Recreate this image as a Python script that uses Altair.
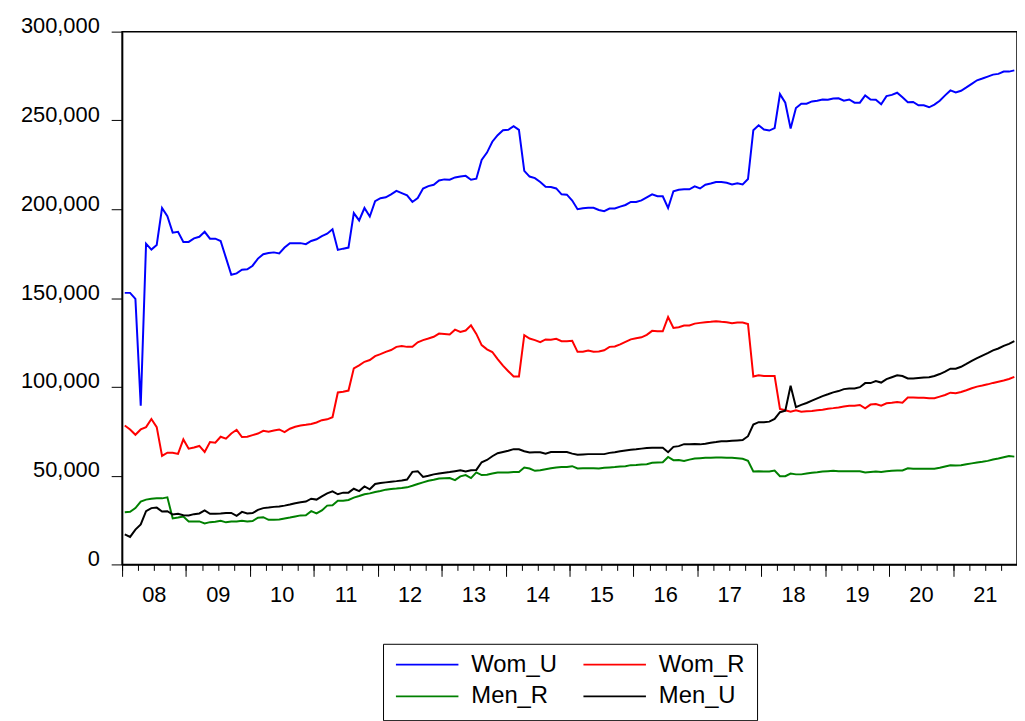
import altair as alt
import pandas as pd

# Monthly observations Jan 2008 .. Dec 2021
start_year = 2008

series_names = ["Wom_U", "Wom_R", "Men_R", "Men_U"]
series_colors = ["#0000ff", "#ff0000", "#008000", "#000000"]

wom_u = [152900, 152900, 149500, 89400, 180600, 177300, 179900, 200700, 196100, 186800,
         187300, 181600, 181600, 183600, 184500, 187300, 183400, 183400, 182100, 172600,
         163100, 163900, 165900, 166200, 168200, 172200, 174700, 175300, 175700, 175100,
         178400, 180900, 180900, 180900, 180300, 182100, 183100, 184900, 186200, 188700,
         177100, 177800, 178400, 197800, 193700, 200700, 195900, 204500, 206200, 206700,
         208400, 210300, 209100, 207800, 204100, 206300, 211600, 213000, 213800, 216200,
         216800, 216600, 217900, 218400, 218800, 216600, 217200, 227800, 231900, 238000,
         241700, 244500, 244700, 246800, 244700, 221600, 218400, 217500, 215300, 212700,
         212500, 211700, 208400, 208200, 204900, 200000, 200600, 200800, 200800, 199600,
         198900, 200400, 200400, 201500, 202400, 204100, 204100, 205000, 206700, 208400,
         207300, 207300, 200700, 210100, 211000, 211200, 211200, 212900, 211700, 213800,
         214500, 215300, 215300, 214900, 214000, 214600, 214000, 217000, 244500, 247300,
         244900, 244300, 245700, 264800, 260000, 245400, 257000, 259400, 259400, 260700,
         261100, 261800, 261700, 262400, 262500, 261100, 261800, 260000, 260000, 264100,
         261800, 261700, 259100, 263700, 264400, 265600, 263000, 260200, 260400, 258500,
         258500, 257400, 258900, 261100, 264100, 266900, 265800, 266700, 268600, 270600,
         272600, 273600, 274700, 275800, 276200, 277500, 277500, 278200]

wom_r = [78200, 76000, 73000, 76000, 77300, 81900, 77300, 61100, 62900, 62900,
         62200, 70400, 65200, 65800, 66700, 63300, 68900, 68500, 71900, 70800,
         73700, 75800, 71700, 71900, 72800, 73700, 75200, 74700, 75400, 76000,
         74500, 76400, 77500, 78200, 78600, 79100, 79900, 81200, 81700, 82900,
         96800, 97200, 97900, 110400, 112100, 114100, 115100, 117300, 118400, 119700,
         120700, 122500, 123000, 122500, 122500, 125100, 126300, 127200, 128200, 130000,
         129800, 129500, 132200, 130900, 131700, 134600, 129800, 123500, 121100, 119600,
         115600, 111900, 108800, 105800, 105800, 129100, 127200, 126300, 125100, 126700,
         126500, 127000, 125700, 125700, 125900, 119700, 119700, 120400, 119700, 119900,
         120600, 122500, 122700, 123900, 125300, 126700, 127400, 127900, 129300, 131500,
         131300, 131300, 139300, 133200, 133600, 134500, 134500, 135600, 136000, 136400,
         136600, 136900, 136600, 136400, 135800, 136200, 136200, 135300, 105800, 106500,
         106100, 106100, 106100, 87500, 86800, 86000, 86800, 86000, 86200, 86400,
         86800, 87100, 87700, 88000, 88400, 88900, 89300, 89400, 89800, 87900,
         90000, 90300, 89400, 90700, 91000, 91400, 91000, 94000, 94000, 93800,
         93800, 93600, 93600, 94500, 95400, 96700, 96400, 97100, 98100, 99200,
         100100, 100700, 101400, 102200, 102900, 103600, 104400, 105600]

men_r = [29400, 29600, 31700, 35400, 36500, 37000, 37200, 37200, 37800, 25900,
         26400, 27000, 24200, 24200, 24200, 23100, 23800, 24000, 24600, 23700,
         24200, 24200, 24600, 24200, 24400, 26300, 26600, 25100, 25100, 25300,
         25900, 26400, 27000, 27600, 27700, 30000, 28700, 30400, 33100, 33300,
         35800, 35800, 36300, 37600, 38500, 39500, 40000, 40800, 41300, 42100,
         42500, 42700, 43000, 43400, 44300, 45300, 46200, 47100, 47700, 48400,
         48500, 48600, 47500, 49600, 50300, 48600, 51800, 50300, 50500, 51200,
         51800, 51800, 51800, 52100, 52100, 54600, 54000, 52700, 53000, 53600,
         54100, 54600, 54800, 54900, 55300, 54000, 54100, 54100, 54100, 54000,
         54400, 54600, 54800, 55100, 55300, 55900, 56000, 56200, 56400, 57200,
         57400, 57500, 60500, 58700, 58800, 58300, 59000, 59600, 59800, 60000,
         60100, 60200, 60200, 60100, 60000, 59800, 59500, 58300, 52300, 52500,
         52300, 52300, 52900, 49700, 49700, 51200, 50700, 50700, 51200, 51600,
         51900, 52300, 52500, 52700, 52500, 52500, 52500, 52500, 52500, 51800,
         52100, 52300, 52100, 52500, 52700, 52900, 52900, 54100, 53900, 53900,
         53900, 53900, 53900, 54400, 55100, 55800, 55700, 55800, 56400, 56900,
         57400, 57800, 58300, 59100, 59600, 60300, 61000, 60700]

men_u = [16900, 15500, 19600, 22500, 30000, 31700, 32000, 29800, 30000, 28100,
         28500, 27700, 27600, 28300, 28700, 30400, 28500, 28500, 28700, 29000,
         29000, 27400, 29600, 28700, 28900, 30700, 31700, 32000, 32400, 32600,
         33100, 33700, 34400, 35000, 35400, 37000, 36500, 38300, 40000, 41100,
         39500, 40400, 40400, 42600, 41300, 43900, 42300, 45300, 45800, 46200,
         46600, 46900, 47300, 47800, 52100, 52500, 49300, 49900, 50700, 51200,
         51600, 52000, 52500, 53000, 52300, 53000, 53200, 57500, 58800, 60900,
         62600, 63300, 64000, 64900, 64800, 63700, 63000, 63200, 63200, 62400,
         63300, 63300, 63300, 63300, 62400, 61700, 61900, 62100, 62100, 62100,
         62100, 62800, 63200, 63700, 64200, 64600, 64800, 65200, 65500, 65700,
         65700, 65700, 63200, 66200, 66600, 67700, 67700, 67800, 67600, 67900,
         68500, 68900, 69400, 69400, 69600, 69800, 70000, 72200, 78800, 80100,
         80100, 80400, 81900, 85700, 86600, 100600, 88500, 89800, 90900, 92200,
         93500, 94800, 95800, 96900, 97600, 98700, 99100, 99100, 99800, 102100,
         102100, 103200, 102400, 104300, 105400, 106500, 106100, 104700, 104700, 105000,
         105200, 105400, 106100, 107200, 108500, 110200, 110200, 111300, 112900, 114600,
         116100, 117600, 119000, 120500, 121600, 123100, 124200, 125700]

year_ticks = list(range(2008, 2022))
year_labels = ["08", "09", "10", "11", "12", "13", "14", "15", "16", "17", "18", "19", "20", "21"]
quarter_ticks = [2008 + q / 4 for q in range(57)]
y_ticks = [0, 50000, 100000, 150000, 200000, 250000, 300000]

rows = []
for name, vals in zip(series_names, [wom_u, wom_r, men_r, men_u]):
    for i, v in enumerate(vals):
        rows.append({"t": start_year + (i + 0.5) / 12, "value": v, "series": name, "order": i})
df = pd.DataFrame(rows)

FONT = "Liberation Sans"
x_scale = alt.Scale(domain=[2008, 2022], nice=False, zero=False)

y_enc = alt.Y(
    "value:Q",
    scale=alt.Scale(domain=[0, 300000], nice=False),
    axis=alt.Axis(values=y_ticks, labelExpr="format(datum.value, ',')", tickSize=11,
                  labelPadding=12, labelFontSize=22, labelFont=FONT, labelColor="black",
                  labelOffset=-6, domainColor="black", domainWidth=1.5,
                  tickColor="black", tickWidth=1, grid=False),
    title=None,
)

minor_axis = alt.Axis(values=quarter_ticks, labels=False, tickSize=6, tickColor="black",
                      tickWidth=1, domainColor="black", domainWidth=1.5, grid=False,
                      orient="bottom")
label_expr = "[" + ",".join("'%s'" % s for s in year_labels) + "][datum.value - %d]" % year_ticks[0]
major_axis = alt.Axis(values=year_ticks, tickSize=12, tickColor="black", tickWidth=1,
                      domain=False, grid=False, orient="bottom", labelExpr=label_expr,
                      labelOffset=32, labelPadding=8, labelFontSize=22, labelFont=FONT,
                      labelColor="black", labelFlush=False, labelOverlap=False,
                      labelBound=False)

lines = alt.Chart(df).mark_line(strokeWidth=2).encode(
    x=alt.X("t:Q", scale=x_scale, axis=minor_axis, title=None),
    y=y_enc,
    color=alt.Color(
        "series:N",
        scale=alt.Scale(domain=series_names, range=series_colors),
        legend=alt.Legend(
            title=None, orient="none", legendX=263, legendY=617, columns=2,
            direction="horizontal",
            symbolType="stroke", symbolSize=3969, symbolStrokeWidth=2,
            clipHeight=18, labelOffset=12, labelFontSize=24, labelFont=FONT,
            labelColor="black", rowPadding=8, columnPadding=25, padding=12,
            strokeColor="black", fillColor="white",
        ),
    ),
    order="order:Q",
)

major = alt.Chart(df).mark_line(strokeOpacity=0).encode(
    x=alt.X("t:Q", scale=x_scale, axis=major_axis, title=None),
    y=y_enc,
    order="order:Q",
)

chart = (
    alt.layer(lines, major)
    .resolve_axis(x="independent")
    .properties(
        width=902, height=537,
        autosize=alt.AutoSizeParams(type="none"),
        padding={"left": 115, "top": 21, "right": 0, "bottom": 155},
        background="white",
    )
    .configure_view(stroke="black", strokeWidth=1.5)
)

chart.save("out.html", embed_options={"renderer": "svg", "actions": False})
